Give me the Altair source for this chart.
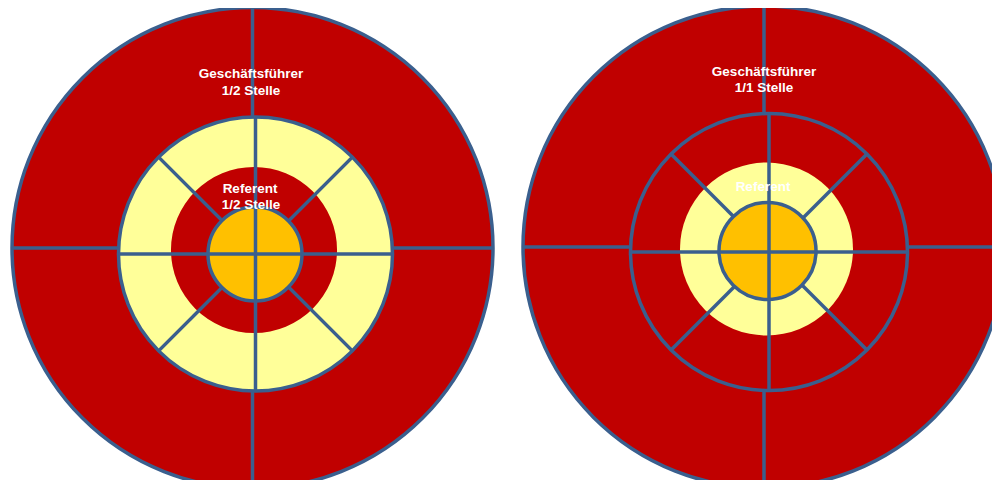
import math
import altair as alt
import pandas as pd

BLUE = "#3A5F8E"
RED = "#C00000"
YEL = "#FFFF99"
ORG = "#FFC000"

# two target diagrams: left (1/2 Stelle), right (1/1 Stelle)
outer_cx = [252.5, 764]
outer_cy = [248, 247]
outer_r = [240.5, 241]

mid_cx = [255.5, 769]
mid_cy = [254, 252]
mid_r = [137, 138.5]
mid_fill = [YEL, RED]

hole_cx = [254, 766.5]
hole_cy = [250, 249]
hole_r = [83, 86.5]
hole_fill = [RED, YEL]

core_cx = [255, 767.5]
core_cy = [254, 251]
core_r = [47, 48.5]

diag_angles = [45, 135, 225, 315]

label_text = ["Geschäftsführer", "1/2 Stelle", "Referent", "1/2  Stelle",
              "Geschäftsführer", "1/1 Stelle", "Referent"]
label_x = [251, 251, 250, 251, 764, 764, 763]
label_y = [74, 91, 189, 205, 72, 87.5, 187]

xs = alt.Scale(domain=[8, 992], nice=False, zero=False)
ys = alt.Scale(domain=[8, 480], reverse=True, nice=False, zero=False)
rs = alt.Scale(type="linear", domain=[0, 300], range=[0, 300], zero=True, nice=False)

X = lambda f: alt.X(f, type="quantitative", scale=xs, axis=None)
Y = lambda f: alt.Y(f, type="quantitative", scale=ys, axis=None)


def disk_layer(cx, cy, r, fills, stroke=True):
    df = pd.DataFrame({"cx": cx, "cy": cy, "r": r, "col": fills})
    kw = dict(theta=0, theta2=2 * math.pi, clip=True)
    if stroke:
        kw.update(stroke=BLUE, strokeWidth=3.5)
    else:
        kw.update(strokeWidth=0)
    return alt.Chart(df).mark_arc(**kw).encode(
        x=X("cx"), y=Y("cy"),
        radius=alt.Radius("r:Q", scale=rs, stack=None),
        fill=alt.Fill("col:N", scale=None, legend=None),
    )


def cross_df(cx, cy, r):
    rows = []
    for a, b, rr in zip(cx, cy, r):
        rows.append({"x": a, "y": b - rr, "x2": a, "y2": b + rr})
        rows.append({"x": a - rr, "y": b, "x2": a + rr, "y2": b})
    return pd.DataFrame(rows)


def diag_df(cx, cy, r):
    rows = []
    for a, b, rr in zip(cx, cy, r):
        for ang in diag_angles:
            t = math.radians(ang)
            rows.append({"x": a, "y": b, "x2": a + rr * math.cos(t), "y2": b - rr * math.sin(t)})
    return pd.DataFrame(rows)


def rule_layer(df):
    return alt.Chart(df).mark_rule(color=BLUE, strokeWidth=3.5, clip=True).encode(
        x=X("x"), y=Y("y"), x2=alt.X2("x2"), y2=alt.Y2("y2")
    )


outer = disk_layer(outer_cx, outer_cy, outer_r, [RED, RED])
outer_cross = rule_layer(cross_df(outer_cx, outer_cy, outer_r))
mid = disk_layer(mid_cx, mid_cy, mid_r, mid_fill)
hole = disk_layer(hole_cx, hole_cy, hole_r, hole_fill, stroke=False)
diags = rule_layer(diag_df(mid_cx, mid_cy, mid_r))
core = disk_layer(core_cx, core_cy, core_r, [ORG, ORG])
inner_cross = rule_layer(cross_df(mid_cx, mid_cy, mid_r))

labels = alt.Chart(pd.DataFrame({"t": label_text, "x": label_x, "y": label_y})).mark_text(
    color="white", font="Liberation Sans", fontWeight="bold", fontSize=13.5, clip=True
).encode(x=X("x"), y=Y("y"), text="t:N")

chart = alt.layer(
    outer, outer_cross, mid, hole, diags, core, inner_cross, labels
).properties(
    width=984, height=472, padding=0, background="white",
    autosize=alt.AutoSizeParams(type="none"),
).configure_view(strokeWidth=0)

chart.save("out.html", embed_options={"renderer": "svg", "actions": False})
